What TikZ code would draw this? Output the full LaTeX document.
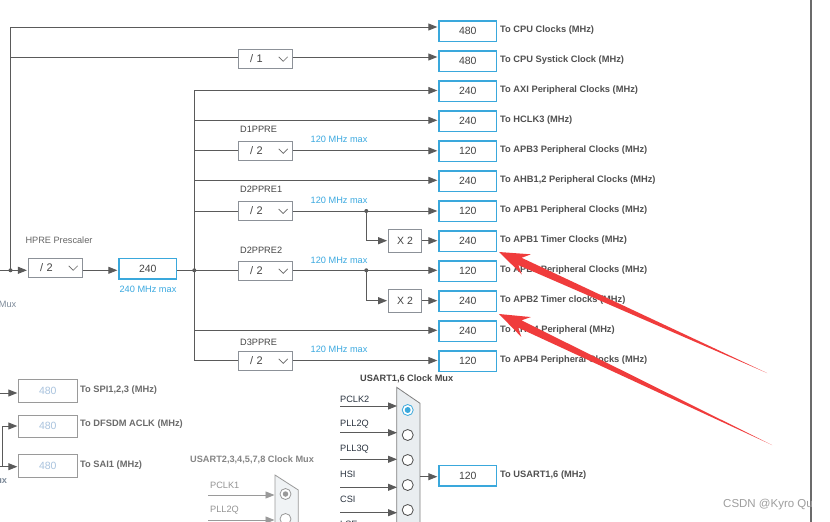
\documentclass[tikz,border=0pt]{standalone}
\usepackage{fontspec}
\setmainfont{Liberation Sans}
\usetikzlibrary{arrows.meta,calc}
\definecolor{ln}{HTML}{5A5A5A}
\definecolor{bblue}{HTML}{3AA8DC}
\definecolor{txt}{HTML}{444444}
\definecolor{lbl}{HTML}{505050}
\definecolor{divg}{HTML}{8C9198}
\definecolor{maxblue}{HTML}{3BA9E0}
\definecolor{annred}{HTML}{F03C3C}
\definecolor{dimtxt}{HTML}{A9C3DE}
\definecolor{dimline}{HTML}{9A9A9A}
\definecolor{muxfill}{HTML}{E9EDF0}
\definecolor{inlbl}{HTML}{2B3440}
\definecolor{fraggray}{HTML}{7D8A99}
\newcommand\annarrow[2]{%
  \coordinate (H) at ($(#1)!30pt!(#2)$);
  \coordinate (N) at ($(#1)!23pt!(#2)$);
  \fill[annred] (#1) -- ($(H)!11pt!90:(#2)$) -- ($(N)!4pt!90:(#2)$) -- (#2)
     -- ($(N)!4pt!-90:(#2)$) -- ($(H)!11pt!-90:(#2)$) -- cycle;}
\begin{document}
\begin{tikzpicture}[x=1pt,y=-1pt,
  line/.style={draw=ln, line width=0.9pt},
  arr/.style={line, -{Triangle[length=9pt,width=7pt]}, shorten >=1pt},
  arrg/.style={draw=dimline, line width=0.9pt, -{Triangle[length=9pt,width=7pt]}, shorten >=0.5pt},
  outbox/.style={draw=bblue, line width=1.6pt, minimum width=57.4pt, minimum height=20.6pt, inner sep=0pt, font=\fontsize{10.5}{12}\selectfont, text=txt},
  graybox/.style={draw=dimline, line width=0.8pt, minimum width=58.2pt, minimum height=22.2pt, inner sep=0pt, font=\fontsize{10.5}{12}\selectfont, text=dimtxt},
  outlabel/.style={anchor=west, inner sep=0pt, font=\bfseries\fontsize{9.3}{11}\selectfont, text=lbl},
  dimlabel/.style={anchor=west, inner sep=0pt, font=\bfseries\fontsize{9.3}{11}\selectfont, text=black!58},
  divbox/.style={draw=divg, line width=0.8pt, minimum width=54pt, minimum height=19pt, inner sep=0pt, font=\fontsize{11}{13}\selectfont, text=txt, text width=44pt, align=left},
  xbox/.style={draw=divg, line width=0.8pt, minimum width=33pt, minimum height=23pt, inner sep=0pt, font=\fontsize{10.5}{12}\selectfont, text=txt},
  chev/.style={draw=black!60, line width=0.7pt},
  plabel/.style={anchor=west, inner sep=0pt, font=\fontsize{9.2}{11}\selectfont, text=txt},
  maxlabel/.style={anchor=west, inner sep=0pt, font=\fontsize{9.2}{11}\selectfont, text=maxblue},
  inlabel/.style={anchor=west, inner sep=0pt, font=\fontsize{9.2}{11}\selectfont, text=inlbl},
  radio/.style={draw=black!70, fill=white, line width=0.8pt, circle, minimum size=11pt, inner sep=0pt},
  dot/.style={fill=ln, circle, minimum size=4pt, inner sep=0pt}
]
\useasboundingbox (0,0) rectangle (830,522);
\clip (0,0) rectangle (830,522);
\fill[white] (0,0) rectangle (830,522);

% ---------- output boxes ----------
\node[outbox] (b1) at (467.8,31) {480};
\node[outbox] (b2) at (467.8,61) {480};
\node[outbox] (b3) at (467.8,91) {240};
\node[outbox] (b4) at (467.8,121) {240};
\node[outbox] (b5) at (467.8,151) {120};
\node[outbox] (b6) at (467.8,181) {240};
\node[outbox] (b7) at (467.8,211) {120};
\node[outbox] (b8) at (467.8,241) {240};
\node[outbox] (b9) at (467.8,271) {120};
\node[outbox] (b10) at (467.8,301) {240};
\node[outbox] (b11) at (467.8,331) {240};
\node[outbox] (b12) at (467.8,361) {120};

\node[outlabel] (l1) at (500,30) {To CPU Clocks (MHz)};
\node[outlabel] (l2) at (500,60) {To CPU Systick Clock (MHz)};
\node[outlabel] (l3) at (500,90) {To AXI Peripheral Clocks (MHz)};
\node[outlabel] (l4) at (500,120) {To HCLK3 (MHz)};
\node[outlabel] (l5) at (500,150) {To APB3 Peripheral Clocks (MHz)};
\node[outlabel] (l6) at (500,180) {To AHB1,2 Peripheral Clocks (MHz)};
\node[outlabel] (l7) at (500,210) {To APB1 Peripheral Clocks (MHz)};
\node[outlabel] (l8) at (500,240) {To APB1 Timer Clocks (MHz)};
\node[outlabel] (l9) at (500,270) {To APB2 Peripheral Clocks (MHz)};
\node[outlabel] (l10) at (500,300) {To APB2 Timer clocks (MHz)};
\node[outlabel] (l11) at (500,330) {To AHB4 Peripheral (MHz)};
\node[outlabel] (l12) at (500,360) {To APB4 Peripheral Clocks (MHz)};

% ---------- top rows ----------
\coordinate (t1) at (10.5,27);
\coordinate (t2) at (10.5,57);
\coordinate (j0) at (10.5,270.3);
\coordinate (in0) at (0,270.3);
\node[divbox] (dv1) at (265.3,58.8) {\hspace*{6.7pt}/ 1};
\draw[line] (j0) -- (t1);
\draw[arr] (t1) -- (b1.west |- t1);
\draw[line] (t2) -- (dv1.west |- t2);
\draw[arr] (dv1.east |- t2) -- (b2.west |- t2);

% ---------- HPRE ----------
\node[plabel, text=black!60] (hpl) at (25.3,240) {HPRE Prescaler};
\node[divbox] (hp) at (55.3,267.8) {\hspace*{6.7pt}/ 2};
\node[outbox] (hb) at (147.8,268.8) {240};
\node[maxlabel, anchor=center] (hbm) at (148,289.3) {240 MHz max};
\coordinate (j1) at (194.3,270.3);
\draw[line] (in0) -- (j0);
\draw[arr] (j0) -- (hp.west |- j0);
\draw[arr] (hp.east |- j0) -- (hb.west |- j0);
\draw[line] (hb.east |- j1) -- (j1);

% ---------- bus ----------
\coordinate (bt) at (194.3,90.5);
\coordinate (bb) at (194.3,360.5);
\coordinate (r4) at (194.3,120.3);
\coordinate (r6) at (194.3,180.3);
\coordinate (r11) at (194.3,330.3);
\draw[line] (bt) -- (bb);
\draw[arr] (bt) -- (b3.west |- bt);
\draw[arr] (r4) -- (b4.west |- r4);
\draw[arr] (r6) -- (b6.west |- r6);
\draw[arr] (r11) -- (b11.west |- r11);

% D1PPRE
\node[plabel] (d1l) at (240,129.5) {D1PPRE};
\node[maxlabel] (d1m) at (310.5,139.7) {120 MHz max};
\node[divbox] (d1) at (265.3,150.8) {\hspace*{6.7pt}/ 2};
\draw[line] (bt |- d1) -- (d1.west);
\draw[arr] (d1.east) -- (b5.west |- d1.east);

% D2PPRE1
\node[plabel] (d2l) at (240,189.7) {D2PPRE1};
\node[maxlabel] (d2m) at (310.5,200) {120 MHz max};
\node[divbox] (d2) at (265.3,211) {\hspace*{6.7pt}/ 2};
\coordinate (j2) at (366.3,211);
\node[xbox] (x1) at (405,240.7) {X 2};
\draw[line] (bt |- d2) -- (d2.west);
\draw[line] (d2.east) -- (j2);
\draw[arr] (j2) -- (b7.west |- j2);
\draw[arr] (j2) |- (x1.west);
\draw[arr] (x1.east) -- (b8.west |- x1.east);

% D2PPRE2
\node[plabel] (d3l) at (240,250) {D2PPRE2};
\node[maxlabel] (d3m) at (310.5,260) {120 MHz max};
\node[divbox] (d3) at (265.3,270.8) {\hspace*{6.7pt}/ 2};
\coordinate (j3) at (366.3,270.3);
\node[xbox] (x2) at (405,300.7) {X 2};
\draw[line] (j1) -- (d3.west |- j1);
\draw[line] (d3.east |- j3) -- (j3);
\draw[arr] (j3) -- (b9.west |- j3);
\draw[arr] (j3) |- (x2.west);
\draw[arr] (x2.east) -- (b10.west |- x2.east);

% D3PPRE
\node[plabel] (d4l) at (240,342) {D3PPRE};
\node[maxlabel] (d4m) at (310.5,349.7) {120 MHz max};
\node[divbox] (d4) at (265.3,360.8) {\hspace*{6.7pt}/ 2};
\draw[line] (bb) -- (d4.west |- bb);
\draw[arr] (d4.east |- bb) -- (b12.west |- bb);

% chevrons
\foreach \d in {dv1,hp,d1,d2,d3,d4}
  \draw[chev] ($(\d.east)+(-14,-2)$) -- ++(4.5,4.5) -- ++(4.5,-4.5);

% junction dots
\foreach \j in {j0,j1,j2,j3}
  \node[dot] at (\j) {};

% ---------- Mux fragments ----------
\node[anchor=east, inner sep=0pt, font=\fontsize{9.2}{11}\selectfont, text=fraggray] (mf1) at (16.5,304.7) {Mux};
\node[anchor=east, inner sep=0pt, font=\bfseries\fontsize{9.2}{11}\selectfont, text=fraggray] (mf2) at (7.3,480) {Mux};

% ---------- bottom-left grey outputs ----------
\node[graybox] (s1) at (47.8,390.8) {480};
\node[graybox] (s2) at (47.8,426) {480};
\node[graybox] (s3) at (47.8,465.8) {480};
\node[dimlabel] (sl1) at (80,390) {To SPI1,2,3 (MHz)};
\node[dimlabel] (sl2) at (80,424.3) {To DFSDM ACLK (MHz)};
\node[dimlabel] (sl3) at (80,465) {To SAI1 (MHz)};
\coordinate (sp0) at (0,393);
\coordinate (df0) at (0,466.7);
\coordinate (dfj) at (2.5,466.7);
\draw[arr] (sp0) -- (s1.west |- sp0);
\draw[arr] (df0) -- (s3.west |- df0);
\draw[arr] (dfj) |- (s2.west);

% ---------- USART2 mux (disabled) ----------
\node[anchor=west, inner sep=0pt, font=\bfseries\fontsize{9.2}{11}\selectfont, text=black!48] (u2t) at (190,460) {USART2,3,4,5,7,8 Clock Mux};
\fill[muxfill!70!white] (275,475) -- (298.3,490) -- (298.3,540) -- (275,540) -- cycle;
\draw[draw=dimline, line width=0.8pt] (275,540) -- (275,475) -- (298.3,490) -- (298.3,540);
\node[plabel, text=black!42] (u2l1) at (210,485) {PCLK1};
\node[plabel, text=black!42] (u2l2) at (210,510) {PLL2Q};
\coordinate (u2a1) at (208,495);
\coordinate (u2e1) at (275,495);
\coordinate (u2a2) at (208,520);
\coordinate (u2e2) at (275,520);
\draw[arrg] (u2a1) -- (u2e1);
\draw[arrg] (u2a2) -- (u2e2);
\node[radio, draw=black!40] (u2c1) at (285.5,494) {};
\node[circle, fill=black!40, minimum size=5.5pt, inner sep=0pt] (u2c1d) at (u2c1) {};
\node[radio, draw=black!40] (u2c2) at (285.5,519) {};

% ---------- USART1,6 mux ----------
\node[anchor=west, inner sep=0pt, font=\bfseries\fontsize{9.2}{11}\selectfont, text=txt] (u1t) at (360,379.3) {USART1,6 Clock Mux};
\fill[muxfill] (396.7,387.3) -- (420,403.3) -- (420,540) -- (396.7,540) -- cycle;
\draw[draw=black!50, line width=0.8pt] (396.7,540) -- (396.7,387.3) -- (420,403.3) -- (420,540);
\node[inlabel] (i1) at (340,399.3) {PCLK2};
\node[inlabel] (i2) at (340,424.3) {PLL2Q};
\node[inlabel] (i3) at (340,449.3) {PLL3Q};
\node[inlabel] (i4) at (340,474.3) {HSI};
\node[inlabel] (i5) at (340,499.3) {CSI};
\node[inlabel] (i6) at (340,524.5) {LSE};
\coordinate (ia1) at (340,406);   \coordinate (ie1) at (397,406);
\coordinate (ia2) at (340,432.7); \coordinate (ie2) at (397,432.7);
\coordinate (ia3) at (340,459.3); \coordinate (ie3) at (397,459.3);
\coordinate (ia4) at (340,487.3); \coordinate (ie4) at (397,487.3);
\coordinate (ia5) at (340,512.7); \coordinate (ie5) at (397,512.7);
\foreach \k in {1,...,5}
  \draw[line, -{Triangle[length=9pt,width=7pt]}] (ia\k) -- (ie\k);
\node[radio, draw=bblue] (c1) at (407.7,410) {};
\node[circle, fill=bblue, minimum size=6pt, inner sep=0pt] (c1d) at (c1) {};
\node[radio] (c2) at (407.7,435) {};
\node[radio] (c3) at (407.7,460) {};
\node[radio] (c4) at (407.7,485) {};
\node[radio] (c5) at (407.7,510) {};
\node[outbox] (bu) at (467.8,475.8) {120};
\node[outlabel] (lu) at (500,475) {To USART1,6 (MHz)};
\coordinate (m1o) at (420,476.7);
\draw[arr] (m1o) -- (bu.west |- m1o);

% ---------- right edge & watermark ----------
\coordinate (rl0) at (811.3,0);
\coordinate (rl1) at (811.3,522);
\draw[line width=2pt, draw=black!58] (rl0) -- (rl1);
\node[anchor=west, inner sep=0pt, font=\fontsize{11.5}{13}\selectfont, text=black!38] (wm) at (723,505) {CSDN @Kyro Qu};

% ---------- red annotation arrows ----------
\coordinate (rt1) at (499,252);
\coordinate (rs1) at (767,373);
\coordinate (rt2) at (499,314);
\coordinate (rs2) at (772,445);
\annarrow{rt1}{rs1}
\annarrow{rt2}{rs2}
\end{tikzpicture}
\end{document}
